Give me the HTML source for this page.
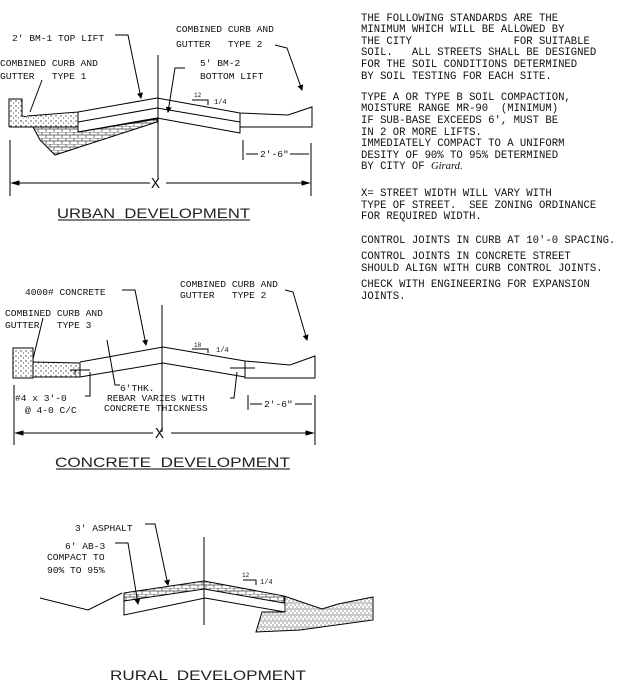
<!DOCTYPE html>
<html><head><meta charset="utf-8"><style>
html,body{margin:0;padding:0;background:#fff;width:622px;height:694px;overflow:hidden}
svg{display:block}
text{font-family:"Liberation Mono",monospace;fill:#111;white-space:pre}
.r{font-size:10.6px}
.l{font-size:9.6px}
.t{font-family:"Liberation Sans",sans-serif;font-size:14px;fill:#222}
</style></head><body>
<svg width="622" height="694" viewBox="0 0 622 694" xmlns="http://www.w3.org/2000/svg" xml:space="preserve">
<defs>
<pattern id="hb" width="8" height="6" patternUnits="userSpaceOnUse">
<path d="M0 0H8M0 3H8M2 0V3M6 3V6" stroke="#444" stroke-width="0.7" fill="none"/></pattern>
<pattern id="dt" width="5" height="5" patternUnits="userSpaceOnUse">
<circle cx="1" cy="1" r="0.7" fill="#333"/><circle cx="3.5" cy="3" r="0.6" fill="#555"/></pattern>
<pattern id="vh" width="4" height="6" patternUnits="userSpaceOnUse">
<path d="M1 0V4M3 2V6" stroke="#555" stroke-width="0.6"/></pattern>
<marker id="a" markerWidth="6" markerHeight="6" refX="5" refY="3" orient="auto"><path d="M0 0L6 3L0 6z" fill="#000"/></marker>
</defs>
<g fill="none" stroke="#000" stroke-width="1">
<!-- URBAN -->
<path d="M158 55V178"/>
<path d="M9 127V99H22V116L27 117"/>
<rect x="9" y="99" width="13" height="28" fill="url(#dt)" stroke="none"/>
<path d="M27 116L78 112V127H33L9 127" fill="url(#dt)"/>
<path d="M33 127L40 140L55 155L157 122V119L78 132V127Z" fill="url(#hb)"/>
<path d="M78 112L157 98L240 113M78 122L157 108L240 122M78 132L157 118M157 118L240 133V113M240 113L288 115L312 107V127H240"/>
<path d="M192 100H208V105"/>
<path d="M115 35H128L141 98" marker-end="url(#a)"/>
<path d="M275 45L287 48L302 90" marker-end="url(#a)"/>
<path d="M185 68H175L168 112" marker-end="url(#a)"/>
<path d="M42 80L30 112"/>
<path d="M243 140V160M311 143V196M10 140V196"/>
<path d="M246 154H258M290 154H309"/>
<path d="M12 183H150M166 183H309"/>
<path d="M12 183l7-2v4z" fill="#000"/><path d="M309 183l-7-2v4z" fill="#000"/>
<path d="M58 220H250"/>
<!-- CONCRETE -->
<path d="M162 305V432"/>
<rect x="13" y="348" width="20" height="30" fill="url(#dt)"/>
<path d="M33 362L80 363V377H33" fill="url(#dt)"/>
<path d="M80 362L163 347L245 361L290 365L315 356V378H245V361M80 377L163 363L245 377"/>
<path d="M70 370H90M230 368H255M75 370V375"/>
<path d="M192 349H208V353"/>
<path d="M122 290H135L146 345" marker-end="url(#a)"/>
<path d="M285 290L293 292L307 340" marker-end="url(#a)"/>
<path d="M43 318L33 359"/>
<path d="M107 340L115 385H120"/>
<path d="M85 396H90V372"/>
<path d="M230 398H234L237 372"/>
<path d="M14 385V445M315 395V445M248 395V410"/>
<path d="M250 404H262M295 404H312"/>
<path d="M16 433H153M171 433H313"/>
<path d="M16 433l7-2v4z" fill="#000"/><path d="M313 433l-7-2v4z" fill="#000"/>
<path d="M56 469H290"/>
<!-- RURAL -->
<path d="M204 537V625"/>
<path d="M40 598L88 610L122 593"/>
<path d="M124 593L204 581L284 596L284 603L204 589L124 601Z" fill="url(#hb)"/>
<path d="M124 593V615L205 598L285 612V596"/>
<path d="M284 596L322 609L338 604L373 597V620L300 630L256 632L262 612L285 612" fill="url(#vh)"/>
<path d="M243 580H256V585"/>
<path d="M145 524H155L168 585" marker-end="url(#a)"/>
<path d="M115 543H128L138 604" marker-end="url(#a)"/>
</g>
<g class="l">
<text x="12" y="41">2' BM-1 TOP LIFT</text>
<text x="176" y="32">COMBINED CURB AND</text>
<text x="176" y="47">GUTTER   TYPE 2</text>
<text x="0" y="66">COMBINED CURB AND</text>
<text x="0" y="79">GUTTER   TYPE 1</text>
<text x="200" y="66">5' BM-2</text>
<text x="200" y="79">BOTTOM LIFT</text>
<text x="194" y="97" style="font-size:6px">12</text>
<text x="214" y="104" style="font-size:7px">1/4</text>
<text x="260" y="157">2'-6"</text>
<text x="151" y="188" style="font-size:15px">X</text>
<text x="25" y="295">4000# CONCRETE</text>
<text x="180" y="287">COMBINED CURB AND</text>
<text x="180" y="298">GUTTER   TYPE 2</text>
<text x="5" y="316">COMBINED CURB AND</text>
<text x="5" y="328">GUTTER   TYPE 3</text>
<text x="194" y="347" style="font-size:6px">18</text>
<text x="216" y="352" style="font-size:7px">1/4</text>
<text x="120" y="391">6'THK.</text>
<text x="107" y="401">REBAR VARIES WITH</text>
<text x="104" y="411">CONCRETE THICKNESS</text>
<text x="15" y="401">#4 x 3'-0</text>
<text x="25" y="413">@ 4-0 C/C</text>
<text x="264" y="407">2'-6"</text>
<text x="155" y="438" style="font-size:15px">X</text>
<text x="75" y="531">3' ASPHALT</text>
<text x="65" y="549">6' AB-3</text>
<text x="47" y="560">COMPACT TO</text>
<text x="47" y="573">90% TO 95%</text>
<text x="242" y="577" style="font-size:6px">12</text>
<text x="260" y="584" style="font-size:7px">1/4</text>
</g>
<text class="t" x="57" y="218" textLength="193" lengthAdjust="spacingAndGlyphs">URBAN  DEVELOPMENT</text>
<text class="t" x="55" y="467" textLength="235" lengthAdjust="spacingAndGlyphs">CONCRETE  DEVELOPMENT</text>
<text class="t" x="110" y="680" textLength="196" lengthAdjust="spacingAndGlyphs">RURAL  DEVELOPMENT</text>
<g class="r">
<text x="361" y="21">THE FOLLOWING STANDARDS ARE THE</text>
<text x="361" y="32">MINIMUM WHICH WILL BE ALLOWED BY</text>
<text x="361" y="44">THE CITY                FOR SUITABLE</text>
<text x="361" y="55">SOIL.   ALL STREETS SHALL BE DESIGNED</text>
<text x="361" y="67">FOR THE SOIL CONDITIONS DETERMINED</text>
<text x="361" y="79">BY SOIL TESTING FOR EACH SITE.</text>
<text x="361" y="100">TYPE A OR TYPE B SOIL COMPACTION,</text>
<text x="361" y="111">MOISTURE RANGE MR-90  (MINIMUM)</text>
<text x="361" y="123">IF SUB-BASE EXCEEDS 6', MUST BE</text>
<text x="361" y="135">IN 2 OR MORE LIFTS.</text>
<text x="361" y="146">IMMEDIATELY COMPACT TO A UNIFORM</text>
<text x="361" y="158">DESITY OF 90% TO 95% DETERMINED</text>
<text x="361" y="169">BY CITY OF <tspan font-style="italic" font-family="Liberation Serif">Girard.</tspan></text>
<text x="361" y="196">X= STREET WIDTH WILL VARY WITH</text>
<text x="361" y="208">TYPE OF STREET.  SEE ZONING ORDINANCE</text>
<text x="361" y="219">FOR REQUIRED WIDTH.</text>
<text x="361" y="243">CONTROL JOINTS IN CURB AT 10'-0 SPACING.</text>
<text x="361" y="259">CONTROL JOINTS IN CONCRETE STREET</text>
<text x="361" y="271">SHOULD ALIGN WITH CURB CONTROL JOINTS.</text>
<text x="361" y="287">CHECK WITH ENGINEERING FOR EXPANSION</text>
<text x="361" y="299">JOINTS.</text>
</g>
</svg>
</body></html>
